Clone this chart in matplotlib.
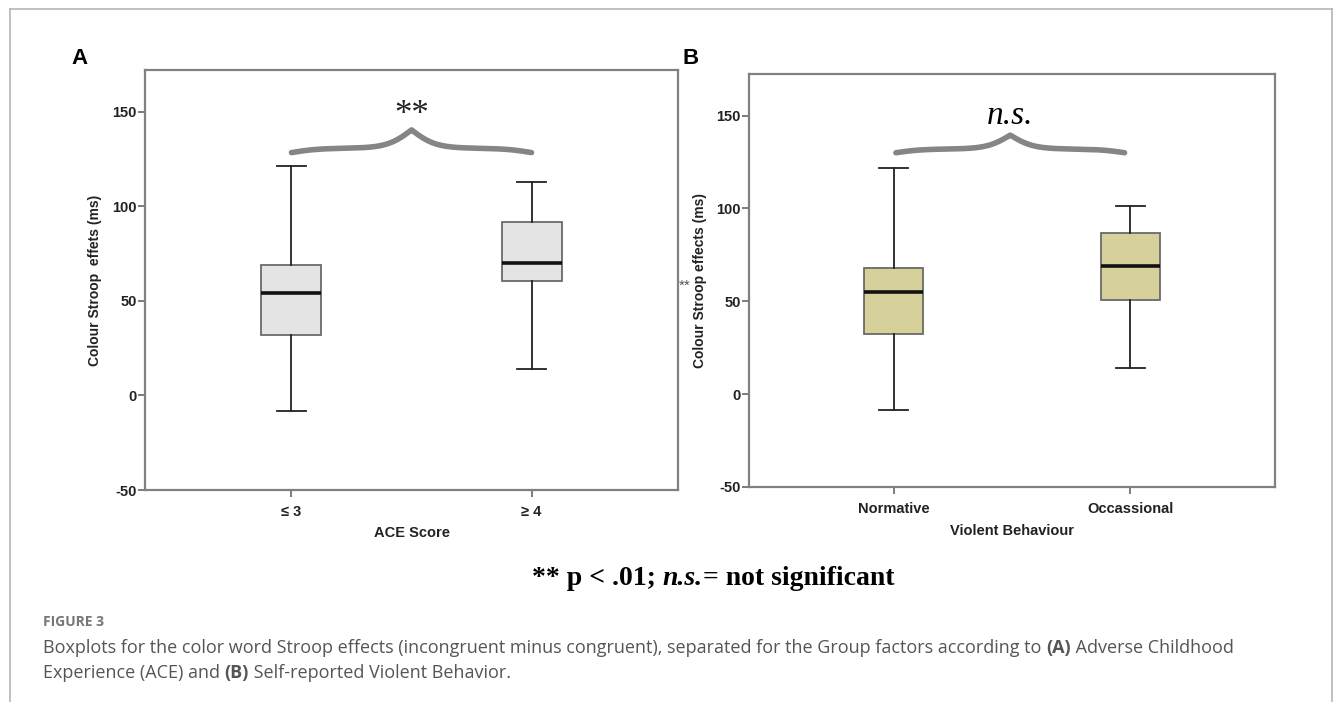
import numpy as np
import matplotlib
matplotlib.use('Agg')
import matplotlib.pyplot as plt
from matplotlib.lines import Line2D

# ---- data ----
ace_groups = ['\u2264 3', '\u2265 4']
ace_whislo = [-8.2, 14.0]
ace_q1 = [32.2, 60.7]
ace_med = [54.0, 70.3]
ace_q3 = [69.0, 92.0]
ace_whishi = [121.4, 112.8]

vio_groups = ['Normative', 'Occassional']
vio_whislo = [-8.4, 14.1]
vio_q1 = [32.2, 50.9]
vio_med = [54.8, 69.2]
vio_q3 = [68.1, 86.9]
vio_whishi = [121.8, 101.5]

yticks = [-50, 0, 50, 100, 150]

W, H = 1333, 702
fig = plt.figure(figsize=(W / 100, H / 100), dpi=100)
plt.rcParams['font.family'] = ['Liberation Sans', 'DejaVu Sans']


def px_axes(l, t, r, b):
    return fig.add_axes([l / W, 1 - b / H, (r - l) / W, (b - t) / H])


def brace(ax, x0, x1, y_end, y_flat, y_peak, b=9.0):
    xm = (x0 + x1) / 2
    u = np.linspace(0, 1, 200)
    s = lambda z: 1 / (1 + np.exp(-z))
    half = y_flat - (y_flat - y_end) * (1 - (2 * s(b * u) - 1)) \
        + (y_peak - y_flat) * 2 * s(1.1 * b * (u - 1))
    xl = x0 + u * (xm - x0)
    xr = x1 - u[::-1][1:] * (x1 - xm)
    xs = np.concatenate([xl, xr])
    ys = np.concatenate([half, half[::-1][1:]])
    ax.plot(xs, ys, color='#858585', lw=4.0, solid_capstyle='round', clip_on=False)


def panel(ax, groups, lo, q1, med, q3, hi, face, ylabel, xlabel, ylim_top):
    stats = []
    for i, g in enumerate(groups):
        stats.append(dict(label=g, whislo=lo[i], q1=q1[i], med=med[i], q3=q3[i],
                          whishi=hi[i], fliers=[]))
    ax.bxp(stats, positions=[1, 2], widths=0.25, patch_artist=True,
           boxprops=dict(facecolor=face, edgecolor='#6a6a6a', lw=1.3),
           medianprops=dict(color='#111111', lw=2.6),
           whiskerprops=dict(color='#222222', lw=1.3),
           capprops=dict(color='#222222', lw=1.3), capwidths=0.12)
    ax.set_xlim(0.39, 2.61)
    ax.set_ylim(-50, ylim_top)
    ax.set_yticks(yticks)
    ax.set_yticklabels([str(v) for v in yticks])
    for sp in ax.spines.values():
        sp.set_color('#808080')
        sp.set_linewidth(1.6)
    ax.tick_params(direction='out', length=5, width=1.2, color='#666666', labelsize=10.5)
    for lab in ax.get_xticklabels() + ax.get_yticklabels():
        lab.set_fontweight('bold')
        lab.set_color('#222222')
    ax.tick_params(axis='y', pad=1)
    ax.tick_params(axis='x', pad=6)
    ax.set_ylabel(ylabel, fontsize=10, fontweight='bold', color='#222222')
    ax.set_xlabel(xlabel, fontsize=10.5, fontweight='bold', color='#222222')


axA = px_axes(145, 70, 678, 490)
panel(axA, ace_groups, ace_whislo, ace_q1, ace_med, ace_q3, ace_whishi,
      '#e4e4e4', 'Colour Stroop  effets (ms)', 'ACE Score', 172.2)
axA.yaxis.set_label_coords(-0.080, 0.5)
axA.xaxis.set_label_coords(0.5, -0.085)
brace(axA, 1.0, 2.0, 128.5, 130.8, 140.5)
axA.text(1.5, 148, '**', family=['Liberation Serif'], fontsize=25, ha='center', va='center',
         color='#222222')

axB = px_axes(749, 74, 1275, 487)
panel(axB, vio_groups, vio_whislo, vio_q1, vio_med, vio_q3, vio_whishi,
      '#d6d19b', 'Colour Stroop effects (ms)', 'Violent Behaviour', 172.4)
axB.yaxis.set_label_coords(-0.080, 0.5)
axB.xaxis.set_label_coords(0.5, -0.09)
brace(axB, 1.01, 1.975, 130.0, 132.0, 139.5)
axB.text(1.49, 150, 'n.s.', family=['Liberation Serif'], style='italic', fontsize=24,
         ha='center', va='center')

# panel letters and stray marker
fig.text(79 / W, 1 - 59 / H, 'A', fontsize=16, fontweight='bold', ha='center', va='center')
fig.text(691 / W, 1 - 58 / H, 'B', fontsize=16, fontweight='bold', ha='center', va='center')
fig.text(685 / W, 1 - 286 / H, '**', fontsize=11, color='#555555', ha='center', va='center')

# outer frame
for xs, ys in [([10, 10], [H, 9]), ([10, 1332], [9, 9]), ([1332, 1332], [9, H])]:
    fig.add_artist(Line2D([x / W for x in xs], [1 - y / H for y in ys],
                          transform=fig.transFigure, color='#b5b5b5', lw=1.2))

renderer = fig.canvas.get_renderer()


def pieces(parts, x, y, ha='left'):
    # place text pieces on one baseline, positions in pixels
    arts = []
    for txt, kw in parts:
        arts.append(fig.text(0, 1 - y / H, txt, va='baseline', ha='left', **kw))
    widths = [a.get_window_extent(renderer).width for a in arts]
    total = sum(widths)
    cx = x - total / 2 if ha == 'center' else x
    for a, w in zip(arts, widths):
        a.set_x(cx / W)
        cx += w


serif = dict(family=['Liberation Serif'], fontsize=20, fontweight='bold')
pieces([('** p < .01; ', serif),
        ('n.s.', dict(serif, style='italic')),
        ('= not significant', serif)], 713, 585, ha='center')

cap = dict(family=['Open Sans'], fontsize=13, color='#555555')
capb = dict(family=['Open Sans'], fontsize=13, color='#555555', fontweight='bold')
fig.text(43 / W, 1 - 626 / H, 'FIGURE 3', family=['Open Sans'], fontsize=10,
         fontweight='bold', color='#777777', va='baseline')
pieces([('Boxplots for the color word Stroop effects (incongruent minus congruent), separated for the Group factors according to ', cap),
        ('(A)', capb), (' Adverse Childhood', cap)], 43, 653)
pieces([('Experience (ACE) and ', cap), ('(B)', capb),
        (' Self-reported Violent Behavior.', cap)], 43, 678)

fig.savefig('out.png', dpi=100)
